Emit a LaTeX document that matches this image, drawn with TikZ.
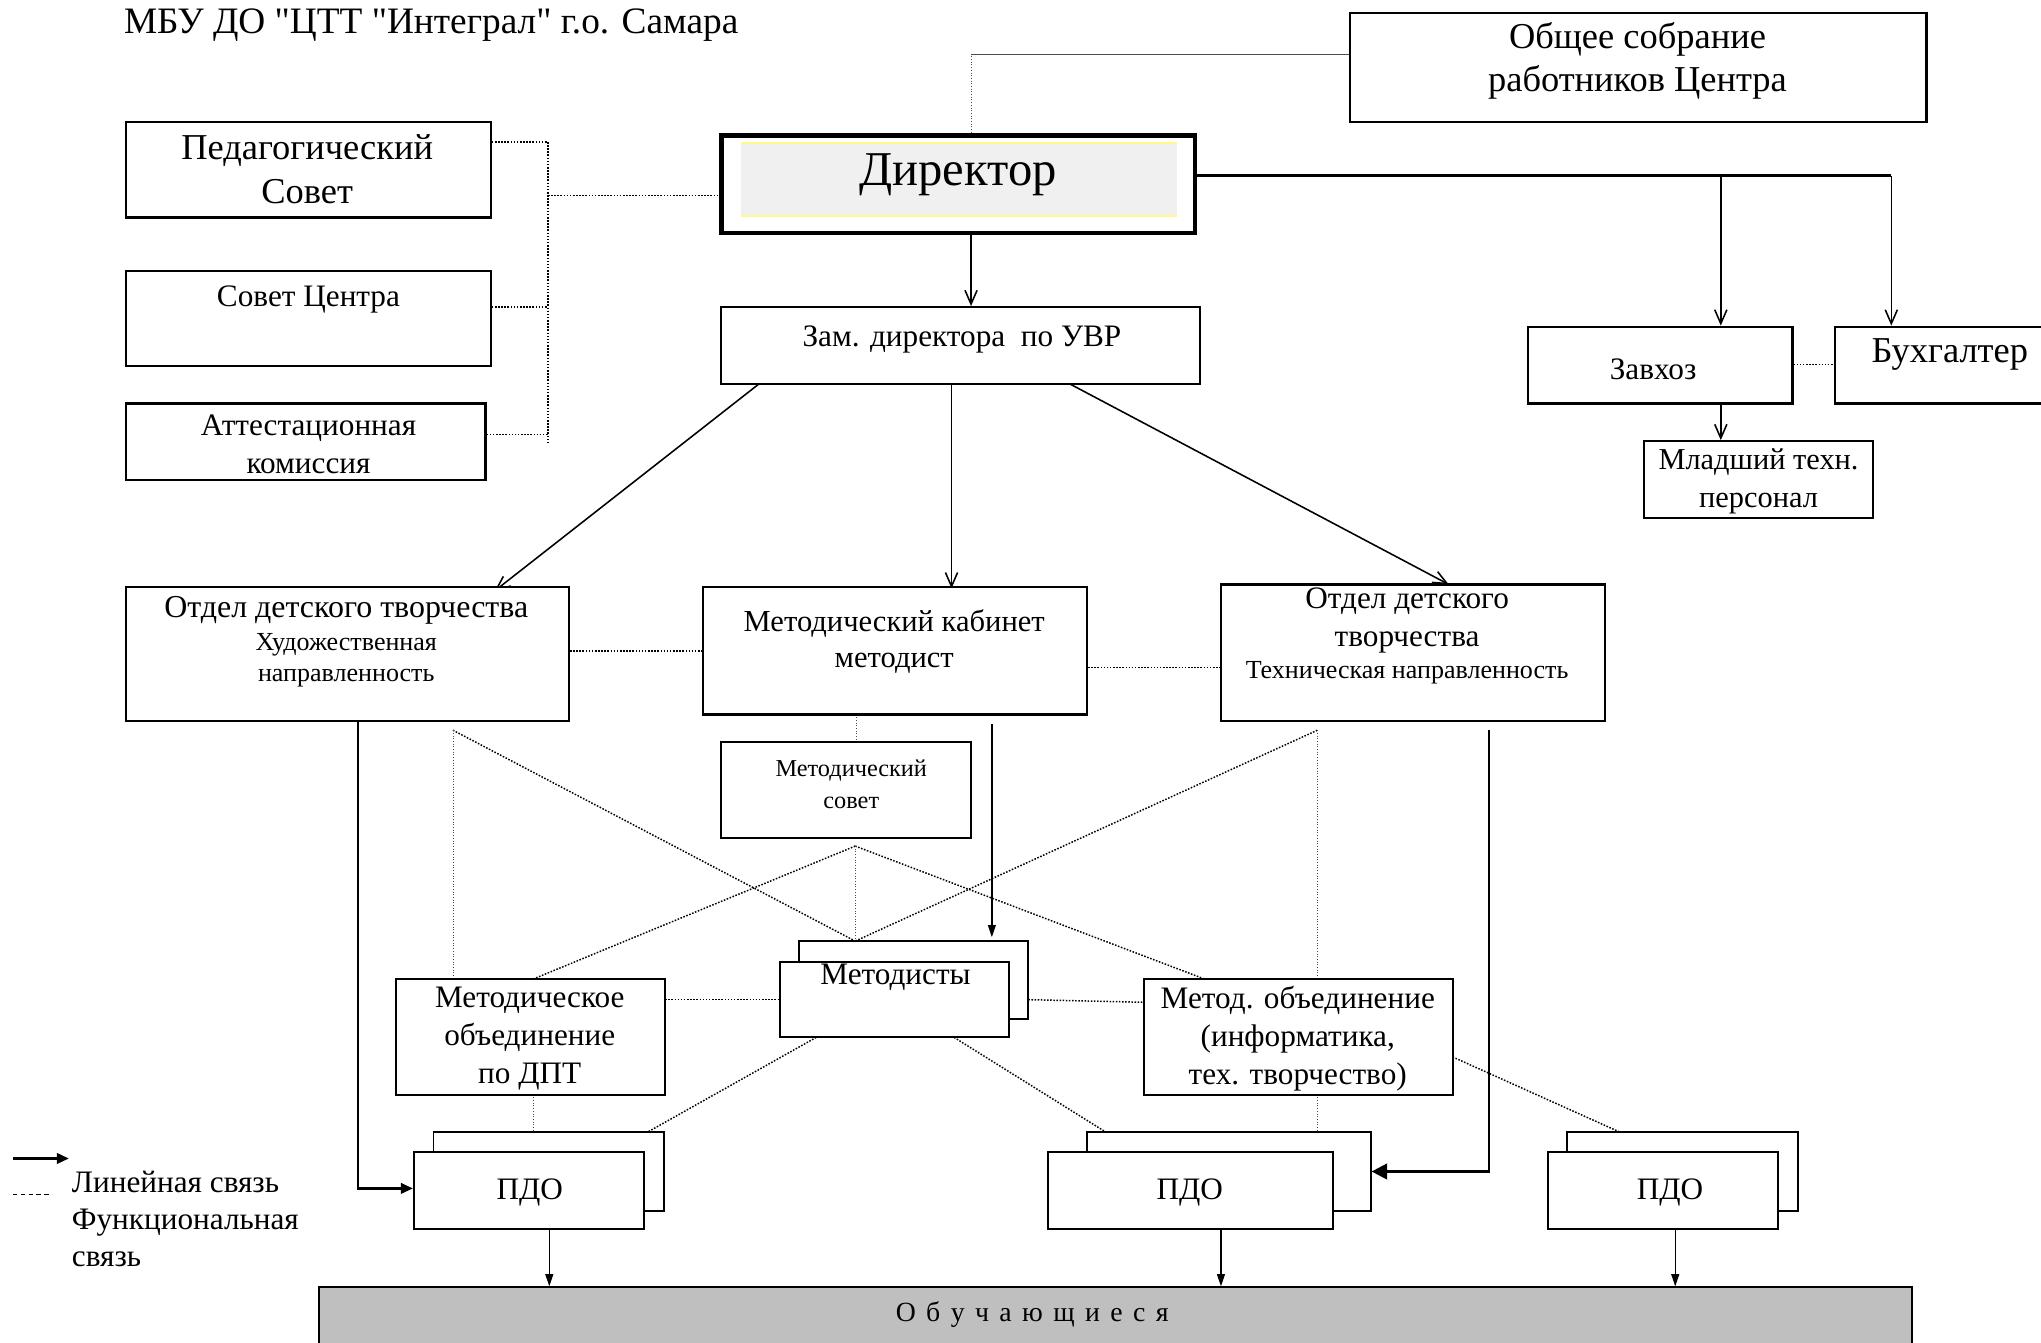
\documentclass[tikz,border=0pt]{standalone}
\usepackage{fontspec}
\setmainfont{Liberation Serif}
\usetikzlibrary{arrows.meta,fit,calc,backgrounds}
\newcommand{\fs}[2]{\fontsize{#1pt}{#2pt}\selectfont}
\newcommand{\ls}{\hspace{6pt}}
\tikzset{
  bx/.style={draw, line width=1.3pt, inner sep=0pt, fill=white},
  tx/.style={inner sep=0pt, align=center},
  fn/.style={dash pattern=on 0.9pt off 0.9pt, line width=0.85pt},
  fnl/.style={densely dotted, line width=0.55pt, draw=black!70},
  ln/.style={line width=0.9pt, -{Straight Barb[length=8pt,width=7pt]}},
  lnf/.style={line width=0.8pt, -{Triangle[length=7pt,width=4.5pt]}},
  lnb/.style={line width=1.5pt, -{Triangle[length=7pt,width=6pt]}},
}
\begin{document}
\begin{tikzpicture}[x=0.75pt,y=-0.75pt]
\useasboundingbox (0,0) rectangle (1568,1031);
\clip (0,0) rectangle (1568,1031);
% ---------- boxes ----------
\node[bx, fit={(1037,10) (1480,94)}] (obs) {};
\node[bx, line width=2.8pt, fit={(554,104) (918,179)}] (dir) {};
\fill[black!6] (569,110) rectangle (904,166);
\draw[yellow!45, line width=1.4pt] (569,110) -- (904,110) (569,166) -- (904,166);
\node[bx, fit={(97,94) (377,167)}] (ped) {};
\node[bx, fit={(97,208) (377,281)}] (sov) {};
\node[bx, fit={(97,310) (373,369)}] (att) {};
\node[bx, fit={(554,236) (922,295)}] (zam) {};
\node[bx, fit={(1174,251) (1377,310)}] (zav) {};
\node[bx, fit={(1410,251) (1590,310)}] (buh) {};
\node[bx, fit={(1263,339) (1439,398)}] (mlad) {};
\node[bx, fit={(97,451) (437,554)}] (oth) {};
\node[bx, fit={(540,451) (835,549)}] (mk) {};
\node[bx, fit={(938,449) (1233,554)}] (ott) {};
\node[bx, line width=1.1pt, fit={(554,570) (746,644)}] (ms) {};
\node[bx, line width=1.1pt, fit={(614,723) (790,783)}] (metB) {};
\node[bx, line width=1.1pt, fit={(599,739) (775,797)}] (metF) {};
\node[bx, fit={(304,752) (511,841)}] (mod) {};
\node[bx, fit={(879,752) (1116,841)}] (moi) {};
\node[bx, line width=1.1pt, fit={(333,870) (510,930)}] (p1B) {};
\node[bx, line width=1.1pt, fit={(318,885) (495,944)}] (p1F) {};
\node[bx, line width=1.1pt, fit={(835,870) (1053,930)}] (p2B) {};
\node[bx, line width=1.1pt, fit={(805,885) (1024,944)}] (p2F) {};
\node[bx, line width=1.1pt, fit={(1204,870) (1381,930)}] (p3B) {};
\node[bx, line width=1.1pt, fit={(1189,885) (1366,944)}] (p3F) {};
\node[bx, line width=1.1pt, fill=black!25, fit={(245,989) (1469,1045)}] (obu) {};
% ---------- texts ----------
\node[tx, anchor=west, font=\fs{21.5}{25}] (title) at (95,19) {МБУ ДО \textquotedbl ЦТТ \textquotedbl Интеграл\textquotedbl{} г.о. Самара};
\node[tx, font=\fs{21}{24.75}] (obsT) at (1258,46.5) {Общее собрание\\работников Центра};
\node[tx, font=\fs{28}{30}] (dirT) at (736,134) {Директор};
\node[tx, font=\fs{21}{25.5}] (pedT) at (236,130) {Педагогический\\Совет};
\node[tx, font=\fs{18}{21}] (sovT) at (237,230) {Совет Центра};
\node[tx, font=\fs{18}{21.75}] (attT) at (237,341.5) {Аттестационная\\комиссия};
\node[tx, font=\fs{18}{21}] (zamT) at (739,261) {Зам. директора\ \ по УВР};
\node[tx, font=\fs{18}{21}] (zavT) at (1270,284) {Завхоз};
\node[tx, font=\fs{21}{24}] (buhT) at (1498,272) {Бухгалтер};
\node[tx, font=\fs{17.5}{21.75}] (mladT) at (1351,370) {Младший техн.\\персонал};
\node[tx, font=\fs{18.4}{21}] (oth1) at (266,469) {Отдел детского творчества};
\node[tx, font=\fs{15}{18}] (oth2) at (266,507) {Художественная\\направленность};
\node[tx, font=\fs{17.6}{21}] (mkT) at (687,493) {Методический кабинет\\методист};
\node[tx, font=\fs{18}{21.75}] (ott1) at (1081,476.5) {Отдел детского\\творчества};
\node[tx, font=\fs{15}{18}] (ott2) at (1081,517) {Техническая направленность};
\node[tx, font=\fs{14}{18.75}] (msT) at (654,602.5) {Методический\\совет};
\node[tx, font=\fs{18}{21}] (metT) at (688,751) {Методисты};
\node[tx, font=\fs{18}{21.75}] (modT) at (407,798) {Методическое\\объединение\\по ДПТ};
\node[tx, font=\fs{18}{21.75}] (moiT) at (997,798) {Метод. объединение\\(информатика,\\тех. творчество)};
\node[tx, font=\fs{18}{21}] (p1T) at (407,916) {ПДО};
\node[tx, font=\fs{18}{21}] (p2T) at (914,916) {ПДО};
\node[tx, font=\fs{18}{21}] (p3T) at (1283,916) {ПДО};
\node[tx, anchor=base, font=\fs{16}{18}] (obuT) at (793,1015.5) {О\ls б\ls у\ls ч\ls а\ls ю\ls щ\ls и\ls е\ls с\ls я};
\node[tx, anchor=west, font=\fs{18}{21}] (lg1) at (55,908) {Линейная связь};
\node[tx, anchor=west, align=left, font=\fs{18}{21}] (lg2) at (55,951) {Функциональная\\связь};
% ---------- coordinates ----------
\coordinate (dtop) at (746,104);
\coordinate (c1) at (746,42);
\coordinate (bx) at (421,109);
\coordinate (bend) at (421,341);
\coordinate (bs) at (421,236);
\coordinate (ba) at (421,334);
\coordinate (bd) at (421,150);
\coordinate (dr) at (1453,135);
\coordinate (dz) at (1322,135);
\coordinate (zb) at (1380,280);
\coordinate (z1s) at (583,295); \coordinate (z1e) at (380,454);
\coordinate (z2s) at (731,295); \coordinate (z2e) at (731,452);
\coordinate (z3s) at (822,295); \coordinate (z3e) at (1113,449);
\coordinate (h1) at (437,500);
\coordinate (h2) at (835,513);
\coordinate (v1) at (658,549);
\coordinate (mka) at (762,556); \coordinate (mkb) at (762,720);
\coordinate (oa) at (275,554); \coordinate (ob) at (275,913);
\coordinate (ta) at (1144,561); \coordinate (tb) at (1144,900);
\coordinate (dl) at (348,561); \coordinate (drt) at (1012,561);
\coordinate (mt) at (657,723); \coordinate (mb) at (657,650);
\coordinate (modt) at (410,752); \coordinate (moit) at (925,752);
\coordinate (dlb) at (348,752); \coordinate (drb) at (1012,752);
\coordinate (pa) at (410,841); \coordinate (pb) at (410,870);
\coordinate (pc) at (1012,841); \coordinate (pd) at (1012,870);
\coordinate (ja) at (627,797); \coordinate (jb) at (497,870);
\coordinate (ka) at (733,797); \coordinate (kb) at (850,870);
\coordinate (la) at (1116,812); \coordinate (lb) at (1245,870);
\coordinate (ma) at (511,768); \coordinate (mc) at (790,768); \coordinate (md) at (879,770);
\coordinate (q1) at (422,944); \coordinate (q2) at (938,944); \coordinate (q3) at (1287,944);
\coordinate (lga) at (10,890); \coordinate (lgb) at (53,890);
\coordinate (lgc) at (10,918); \coordinate (lgd) at (40,918);
% ---------- connectors ----------
\begin{scope}[on background layer]
\draw[fnl] (dtop) -- (c1);
\draw[line width=0.8pt, black!70] (c1) -- (c1 -| obs.west);
\draw[fn] (ped.east |- bx) -- (bx) -- (bend);
\draw[fn] (sov.east |- bs) -- (bs);
\draw[fn] (att.east |- ba) -- (ba);
\draw[fn] (bd) -- (dir.west |- bd);
\draw[line width=1.6pt] (dir.east |- dr) -- (dr);
\draw[ln] (dr) -- (dr |- buh.north);
\draw[ln] (dz) -- (dz |- zav.north);
\draw[ln] (dir.south -| dtop) -- (zam.north -| dtop);
\draw[fn] (zav.east |- zb) -- (buh.west |- zb);
\draw[ln] (zav.south -| dz) -- (mlad.north -| dz);
\draw[ln] (z1s) -- (z1e);
\draw[ln] (z2s) -- (z2e);
\draw[ln] (z3s) -- (z3e);
\draw[fn] (oth.east |- h1) -- (mk.west |- h1);
\draw[fn] (mk.east |- h2) -- (ott.west |- h2);
\draw[fnl] (v1) -- (ms.north -| v1);
\draw[lnf] (mka) -- (mkb);
\draw[lnb] (oa) -- (ob) -- (p1F.west |- ob);
\draw[line width=1.5pt, -{Triangle[length=9pt,width=9pt]}] (ta) -- (tb) -- (p2B.east |- tb);
\draw[fn] (dl) -- (mt);
\draw[fn] (drt) -- (mt);
\draw[fn] (mb) -- (modt);
\draw[fn] (mb) -- (moit);
\draw[fnl] (mb) -- (mt);
\draw[fnl] (dl) -- (dlb);
\draw[fnl] (drt) -- (drb);
\draw[fnl] (pa) -- (pb);
\draw[fnl] (pc) -- (pd);
\draw[fn] (ja) -- (jb);
\draw[fn] (ka) -- (kb);
\draw[fn] (la) -- (lb);
\draw[fn] (ma) -- (ma -| metF.west);
\draw[fn] (mc) -- (md);
\draw[lnf] (q1) -- (q1 |- obu.north);
\draw[lnf] (q2) -- (q2 |- obu.north);
\draw[lnf] (q3) -- (q3 |- obu.north);
\end{scope}
\draw[lnb] (lga) -- (lgb);
\draw[line width=0.6pt, dash pattern=on 2.5pt off 2pt] (lgc) -- (lgd);
\end{tikzpicture}
\end{document}
